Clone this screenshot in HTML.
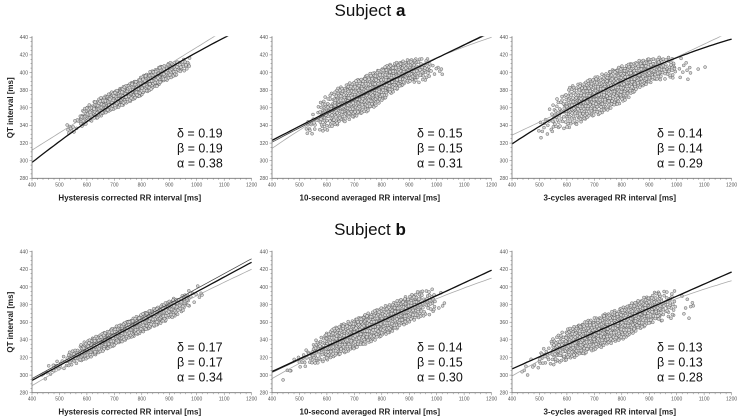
<!DOCTYPE html>
<html><head><meta charset="utf-8">
<style>
html,body{margin:0;padding:0;background:#fff;}
svg{display:block;font-family:"Liberation Sans",sans-serif;}
</style></head>
<body>
<svg id="c" width="740" height="420" viewBox="0 0 740 420">
<text x="370" y="16" text-anchor="middle" font-size="17" fill="#111">Subject <tspan font-weight="bold">a</tspan></text>
<text x="370" y="235" text-anchor="middle" font-size="17" fill="#111">Subject <tspan font-weight="bold">b</tspan></text>
</svg>
<script>
// ---- data ----
const xTicks = [400,500,600,700,800,900,1000,1100,1200];
const yTicks = [280,300,320,340,360,380,400,420,440];
const xTitles = ["Hysteresis corrected RR interval [ms]","10-second averaged RR interval [ms]","3-cycles averaged RR interval [ms]"];
const deltas = ["0.19","0.15","0.14","0.17","0.14","0.13"];
const betas  = ["0.19","0.15","0.14","0.17","0.15","0.13"];
const alphas = ["0.38","0.31","0.29","0.34","0.30","0.28"];
// scatter bands: RR bin centre, QT centre, half-width, count
const bandRR = [
 [550,600,650,700,750,800,850,900,950],
 [550,600,650,700,750,800,850,900,950,1000],
 [520,570,620,670,720,770,820,870,920,970,1030,1080],
 [460,500,550,600,650,700,750,800,850,900,950,1000],
 [460,520,570,620,670,720,770,820,870,920,970,1030,1070],
 [460,520,570,620,670,720,770,820,870,920,970,1040]];
const bandQT = [
 [340,352,361,369,376,385,394,402,408],
 [343,355,363,370,377,386,396,402,403,404],
 [340,353,362,369,375,382,390,399,404,405,403,405],
 [304,312,320,329,336,344,351,359,366,374,382,392],
 [305,318,328,336,343,349,356,363,371,378,383,383],
 [308,322,330,337,343,349,355,361,370,377,380,378]];
const bandHW = [
 [7,8,8,8,8,8,8,7,6],
 [10,16,16,16,16,15,12,10,11,6],
 [10,16,18,17,17,17,15,12,10,10,10,4],
 [5,6,7,8,8,8,8,8,8,8,8,8],
 [6,8,11,13,13,13,13,13,12,12,12,10,4],
 [6,10,13,14,14,14,14,14,13,13,13,12]];
const bandN = [
 [12,50,100,150,165,140,140,100,25],
 [20,65,120,150,160,140,140,110,40,8],
 [12,40,85,135,150,150,140,115,75,35,10,2],
 [8,12,35,85,115,140,140,135,125,100,40,8],
 [5,16,60,110,135,140,140,135,115,90,35,8,2],
 [7,20,65,115,140,150,150,140,125,90,35,8]];
// fitted curves: values at fitRR
const fitRR = [400,800,1200];
const fitBlack = [[298,386,455],[323,386,446],[319,390,438],[294,361,428],[304,361.5,419],[307,362,417]];
const fitDark  = [[298,386,455],[321,385,447],[319,390,438],[296,364,432],[303,361,419],[307,362,417]];
const fitGray  = [[312,390,467],[314,388,440],[329,388,447],[288,358,420],[296,360,410],[299,362,407]];

// ---- layout ----
const NS="http://www.w3.org/2000/svg";
const svg=document.getElementById('c');
const lefts=[32,272,512], tops=[37.3,251.7], W=219.6, H=141;
function el(t,a,p){const e=document.createElementNS(NS,t);for(const k in a)e.setAttribute(k,a[k]);(p||svg).appendChild(e);return e;}
function halton(i,b){let f=1,r=0;while(i>0){f/=b;r+=f*(i%b);i=Math.floor(i/b);}return r;}
function interp(xs,ys,x){
  if(x<=xs[0])return ys[0]+(x-xs[0])*(ys[1]-ys[0])/(xs[1]-xs[0]);
  const n=xs.length-1;
  if(x>=xs[n])return ys[n]+(x-xs[n])*(ys[n]-ys[n-1])/(xs[n]-xs[n-1])*0.5;
  for(let i=0;i<n;i++)if(x<=xs[i+1]){const t=(x-xs[i])/(xs[i+1]-xs[i]);return ys[i]+t*(ys[i+1]-ys[i]);}
}

for(let p=0;p<6;p++){
  const L=lefts[p%3], T=tops[Math.floor(p/3)];
  const sx=v=>L+(v-400)/800*W, sy=v=>T+(440-v)/160*H;
  const g=el('g',{});
  
  
  const cid='clip'+p;
  const cp=el('clipPath',{id:cid},g); el('rect',{x:L,y:T-1,width:W+1,height:H+1},cp);
  const sg=el('g',{'clip-path':'url(#'+cid+')'},g);
  
  
  let idx=1+p*53;
  for(let b=0;b<bandRR[p].length;b++){
    for(let k=0;k<bandN[p][b];k++){
      const u=halton(idx,2), v=halton(idx,3); idx++;
      const rr=bandRR[p][b]+(u-0.5)*50;
      const t=(v-0.5)*2; const sh=t*Math.abs(t)*0.6+t*0.4;
      const hw=interp(bandRR[p],bandHW[p],rr);
      const qt=interp(bandRR[p],bandQT[p],rr)+sh*hw*1.3;
      const c=el('circle',{cx:sx(rr).toFixed(1),cy:sy(qt).toFixed(1),r:1.5,fill:'#d4d4d4',stroke:'#5a5a5a','stroke-width':0.45},sg);
      
      
    }
  }
  function curve(q,col,w,name){
    let d='';
    for(let i=0;i<=60;i++){
      const x=400+800*i/60;
      const l0=(x-800)*(x-1200)/((400-800)*(400-1200)), l1=(x-400)*(x-1200)/((800-400)*(800-1200)), l2=(x-400)*(x-800)/((1200-400)*(1200-800));
      const y=q[0]*l0+q[1]*l1+q[2]*l2;
      d+=(i?'L':'M')+sx(x).toFixed(1)+' '+sy(y).toFixed(1);
    }
    const e=el('path',{d:d,fill:'none',stroke:col,'stroke-width':w,'clip-path':'url(#'+cid+')'},g);
    
    
  }
  curve(fitGray[p],'#aaa',0.8,'fit-line-gray');
  curve(fitDark[p],'#444',0.8,'fit-line-thin');
  curve(fitBlack[p],'#111',1.3,'fit-line-main');
  const ax=el('path',{d:`M${L} ${T-1}V${T+H}H${L+W}`,stroke:'#777',fill:'none','stroke-width':0.8},g);
  
  
  let td='';
  for(let v=400;v<=1200;v+=20){td+=`M${sx(v).toFixed(1)} ${T+H}v${v%100?1.5:2.5}`;}
  for(let v=280;v<=440;v+=5){td+=`M${L} ${sy(v).toFixed(1)}h${v%20?-1.5:-2.5}`;}
  el('path',{d:td,stroke:'#777','stroke-width':0.5,fill:'none'},g);
  xTicks.forEach(v=>{const t=el('text',{x:sx(v),y:T+H+8,'text-anchor':'middle','font-size':5,fill:'#555'},g);t.textContent=v;
    });
  yTicks.forEach(v=>{const t=el('text',{x:L-4,y:sy(v)+1.8,'text-anchor':'end','font-size':5,fill:'#555'},g);t.textContent=v;
    });
  const xt=el('text',{x:L+W/2-12,y:T+H+22,'text-anchor':'middle','font-size':8,'font-weight':'bold',fill:'#222'},g);
  xt.textContent=xTitles[p%3];
  
  
  if(p%3===0){
    const yt=el('text',{x:0,y:0,'text-anchor':'middle','font-size':8,'font-weight':'bold',fill:'#222',transform:`translate(13 ${T+H/2}) rotate(-90)`},g);
    yt.textContent='QT interval [ms]';
    
    
  }
  const labels=['δ = '+deltas[p],'β = '+betas[p],'α = '+alphas[p]];
  labels.forEach((s,i)=>{const t=el('text',{x:L+145,y:T+100+i*15,'font-size':12.5,fill:'#111'},g);t.textContent=s;
    });
}
</script>
</body></html>
